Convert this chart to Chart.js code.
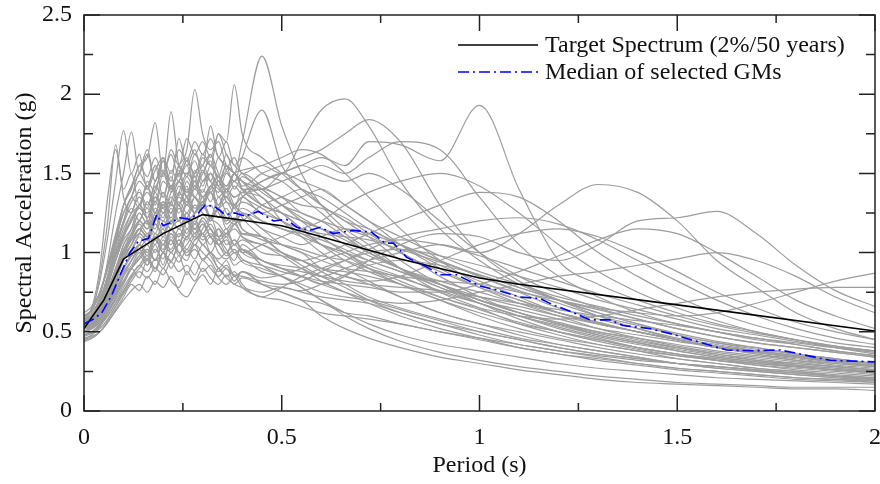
<!DOCTYPE html>
<html>
<head>
<meta charset="utf-8">
<script src="https://cdn.jsdelivr.net/npm/chart.js@4.4.1/dist/chart.umd.min.js"></script>
<style>
  html, body { margin: 0; padding: 0; background: #fff; }
  #wrap { width: 880px; height: 484px; position: relative; }
</style>
</head>
<body>
<div id="wrap"><canvas id="spectra"></canvas></div>
<script>
// periods (s) shared by all ground-motion spectra
const gmPeriods = [0, 0.02, 0.04, 0.06, 0.08, 0.1, 0.12, 0.14, 0.16, 0.18, 0.2, 0.22, 0.24, 0.26, 0.28, 0.3,
    0.32, 0.34, 0.36, 0.38, 0.4,
    0.45, 0.5, 0.55, 0.6, 0.66, 0.72, 0.8, 0.9, 1.0, 1.1, 1.2, 1.3, 1.4, 1.5, 1.6, 1.7, 1.8, 1.9, 2.0];

// Sa (g) of each selected ground motion
// first row of each: 0 - 0.4 s, second row: 0.45 - 2.0 s
const gmSpectra = [
    [0.55,0.58,0.64,0.75,0.88,1.05,1.12,1.25,1.18,1.38,1.25,1.32,1.45,1.35,1.52,1.42,1.55,1.48,1.62,1.5,1.7,
     2.24,1.8,1.5,1.3,1.15,1.05,0.9,0.75,0.65,0.55,0.48,0.42,0.38,0.33,0.3,0.27,0.25,0.22,0.2],
    [0.5,0.53,0.58,0.66,0.78,0.9,0.98,1.05,0.98,1.1,1.05,1.15,1.2,1.12,1.25,1.3,1.22,1.28,1.35,1.28,1.4,
     1.4,1.5,1.55,1.6,1.55,1.7,1.68,1.58,1.93,1.4,0.95,0.8,0.7,0.62,0.55,0.5,0.45,0.4,0.36],
    [0.48,0.5,0.55,0.62,0.72,0.82,0.9,0.98,1.05,0.95,1.0,1.08,0.98,1.1,1.05,1.12,1.0,1.08,1.02,0.95,1.05,
     0.95,0.92,0.9,0.85,0.9,0.95,1.0,1.05,1.0,1.12,1.3,1.43,1.38,1.2,0.95,0.78,0.62,0.52,0.45],
    [0.52,0.54,0.58,0.66,0.78,0.88,0.95,1.02,0.92,1.1,1.0,1.15,1.05,1.2,1.08,1.15,1.22,1.1,1.0,1.08,1.02,
     0.95,0.9,0.85,0.8,0.85,0.95,1.05,1.12,1.1,1.0,0.95,1.05,1.2,1.22,1.26,1.12,0.92,0.76,0.66],
    [0.6,0.63,0.7,0.82,0.98,1.12,1.25,1.3,1.42,1.32,1.5,1.38,1.45,1.55,1.4,1.5,1.58,1.45,1.52,1.6,1.5,
     1.55,1.5,1.7,1.9,1.97,1.8,1.45,1.15,0.95,0.8,0.7,0.6,0.52,0.45,0.4,0.36,0.32,0.29,0.27],
    [0.55,0.58,0.64,0.72,0.85,0.98,1.05,1.15,1.1,1.22,1.15,1.28,1.2,1.32,1.25,1.4,1.32,1.45,1.38,1.5,1.42,
     1.5,1.55,1.6,1.65,1.75,1.84,1.7,1.3,1.0,0.82,0.7,0.62,0.55,0.48,0.43,0.4,0.36,0.33,0.3],
    [0.5,0.54,0.6,0.7,0.82,0.95,1.02,1.1,1.05,1.18,1.12,1.2,1.15,1.25,1.18,1.3,1.22,1.35,1.25,1.2,1.35,
     1.4,1.45,1.5,1.55,1.5,1.6,1.7,1.65,1.35,1.05,0.85,0.72,0.62,0.55,0.5,0.46,0.42,0.38,0.35],
    [0.55,0.62,0.85,1.2,1.68,1.35,1.25,1.4,1.2,1.1,1.15,1.0,1.08,0.98,1.05,0.95,1.0,0.9,0.95,0.85,0.88,
     0.8,0.75,0.7,0.68,0.62,0.6,0.55,0.5,0.45,0.4,0.36,0.33,0.3,0.27,0.25,0.23,0.21,0.2,0.18],
    [0.58,0.6,0.66,0.76,0.9,1.05,1.15,1.3,1.25,1.4,1.5,1.42,1.55,1.65,2.03,1.75,1.65,1.7,1.55,1.5,1.45,
     1.3,1.25,1.15,1.05,1.0,0.9,0.8,0.7,0.62,0.55,0.5,0.45,0.4,0.36,0.33,0.3,0.28,0.26,0.24],
    [0.5,0.53,0.58,0.66,0.78,0.9,1.0,1.12,1.2,1.15,1.3,1.25,1.38,1.5,1.45,1.6,1.55,1.75,1.7,2.06,1.75,
     1.6,1.5,1.4,1.35,1.25,1.15,1.05,0.92,0.82,0.72,0.62,0.55,0.5,0.45,0.4,0.37,0.34,0.31,0.29],
    [0.6,0.64,0.75,0.92,1.1,1.3,1.4,1.55,1.48,1.6,1.5,1.89,1.55,1.5,1.58,1.45,1.5,1.35,1.4,1.3,1.25,
     1.15,1.05,1.0,0.9,0.85,0.8,0.72,0.62,0.55,0.5,0.45,0.4,0.36,0.33,0.3,0.27,0.25,0.23,0.21],
    [0.55,0.6,0.72,0.95,1.25,1.5,1.76,1.5,1.62,1.45,1.6,1.4,1.5,1.35,1.45,1.3,1.38,1.25,1.2,1.28,1.15,
     1.1,1.0,0.95,0.88,0.8,0.72,0.65,0.58,0.52,0.46,0.42,0.38,0.34,0.3,0.28,0.26,0.24,0.22,0.2],
    [0.5,0.53,0.58,0.65,0.75,0.86,0.95,1.05,1.12,1.05,1.2,1.15,1.28,1.22,1.35,1.3,1.42,1.38,1.5,1.45,1.6,
     1.9,1.55,1.4,1.3,1.2,1.15,1.05,0.95,0.85,0.75,0.65,0.58,0.52,0.46,0.42,0.38,0.35,0.32,0.3],
    [0.45,0.47,0.5,0.56,0.63,0.7,0.76,0.8,0.75,0.82,0.78,0.85,0.76,0.72,0.8,0.86,0.8,0.9,0.84,0.8,0.78,
     0.75,0.78,0.75,0.72,0.7,0.68,0.62,0.55,0.5,0.45,0.4,0.36,0.33,0.3,0.27,0.25,0.23,0.21,0.19],
    [0.48,0.5,0.54,0.6,0.68,0.76,0.85,0.92,0.88,0.96,0.9,1.0,0.94,1.02,0.96,1.05,0.98,0.9,0.85,0.88,0.8,
     0.72,0.78,0.85,0.9,0.95,1.0,1.02,0.98,0.92,0.85,0.78,0.7,0.64,0.58,0.52,0.48,0.44,0.4,0.37],
    [0.52,0.55,0.6,0.68,0.8,0.9,0.98,1.05,1.0,1.12,1.05,1.15,1.1,1.2,1.12,1.22,1.15,1.08,1.12,1.18,1.12,
     1.1,1.05,1.0,0.95,0.9,0.88,0.85,0.82,0.8,0.75,0.7,0.65,0.62,0.6,0.62,0.68,0.75,0.82,0.87],
    [0.5,0.53,0.58,0.66,0.75,0.86,0.95,1.02,1.08,1.0,1.1,1.05,1.15,1.1,1.2,1.12,1.18,1.1,1.15,1.05,1.12,
     1.1,1.0,0.95,0.9,0.88,0.85,0.8,0.72,0.65,0.6,0.58,0.6,0.64,0.68,0.72,0.75,0.77,0.78,0.78],
    [0.55,0.58,0.64,0.74,0.86,1.0,1.08,1.15,1.1,1.22,1.28,1.18,1.3,1.2,1.25,1.32,1.22,1.18,1.12,1.15,1.1,
     1.05,1.0,0.95,0.9,0.85,0.82,0.85,0.95,1.05,1.12,1.15,1.1,1.0,0.88,0.75,0.65,0.56,0.5,0.45],
    [0.53,0.56,0.62,0.72,0.84,0.98,1.08,1.15,1.2,1.12,1.25,1.18,1.28,1.22,1.3,1.25,1.2,1.28,1.22,1.18,1.25,
     1.2,1.15,1.1,1.05,1.0,0.95,0.88,0.8,0.72,0.66,0.6,0.55,0.5,0.45,0.4,0.37,0.34,0.31,0.29],
    [0.56,0.6,0.68,0.8,0.95,1.08,1.15,1.25,1.18,1.32,1.25,1.38,1.45,1.38,1.5,1.55,1.45,1.4,1.35,1.3,1.35,
     1.25,1.3,1.35,1.4,1.3,1.2,1.05,0.9,0.78,0.68,0.6,0.52,0.46,0.41,0.37,0.34,0.31,0.28,0.26],
    [0.45,0.48,0.53,0.62,0.72,0.85,0.92,1.0,0.95,1.05,0.92,1.1,1.0,0.95,1.05,1.0,0.95,0.88,0.92,0.85,0.88,
     0.8,0.75,0.7,0.6,0.52,0.46,0.4,0.34,0.3,0.26,0.23,0.2,0.18,0.17,0.16,0.15,0.14,0.14,0.13],
    [0.62,0.66,0.75,0.9,1.08,1.25,1.35,1.5,1.42,1.55,1.48,1.65,1.55,1.72,1.62,1.7,1.6,1.75,1.62,1.55,1.5,
     1.4,1.3,1.2,1.1,1.0,0.92,0.85,0.75,0.68,0.6,0.52,0.46,0.4,0.36,0.32,0.29,0.26,0.24,0.22],
    [0.5,0.52,0.56,0.62,0.7,0.8,0.9,0.96,1.02,0.95,1.08,1.02,1.12,1.08,1.18,1.12,1.22,1.28,1.2,1.3,1.35,
     1.45,1.5,1.45,1.4,1.3,1.2,1.1,0.98,0.88,0.8,0.72,0.66,0.6,0.55,0.5,0.45,0.42,0.38,0.35],
    [0.52,0.54,0.6,0.68,0.8,0.9,0.98,1.05,0.98,1.08,1.02,1.12,1.05,1.1,1.15,1.08,1.12,1.05,1.0,1.05,1.0,
     1.05,1.1,1.15,1.2,1.3,1.38,1.45,1.5,1.42,1.25,1.05,0.88,0.75,0.65,0.57,0.5,0.45,0.41,0.38],
    [0.48,0.5,0.54,0.6,0.68,0.78,0.86,0.92,0.98,0.9,1.0,0.94,1.05,0.98,1.02,0.96,1.0,0.94,0.9,0.86,0.85,
     0.82,0.8,0.82,0.88,0.95,1.02,1.1,1.15,1.2,1.22,1.18,1.08,0.95,0.82,0.7,0.6,0.52,0.46,0.42],
    [0.46,0.48,0.54,0.62,0.72,0.82,0.9,0.98,0.92,1.02,0.96,1.08,1.0,1.05,1.12,1.05,1.1,1.0,0.96,1.0,0.94,
     0.9,0.85,0.78,0.7,0.62,0.55,0.48,0.42,0.38,0.34,0.3,0.27,0.25,0.23,0.21,0.2,0.19,0.18,0.17],
    [0.57,0.6,0.7,0.84,1.0,1.15,1.25,1.35,1.28,1.42,1.35,1.52,1.45,1.58,1.5,1.62,1.55,1.48,1.42,1.5,1.4,
     1.3,1.25,1.2,1.15,1.1,1.0,0.9,0.8,0.7,0.62,0.55,0.48,0.43,0.38,0.34,0.31,0.28,0.26,0.24],
    [0.5,0.52,0.57,0.65,0.76,0.86,0.95,1.02,0.96,1.08,1.0,1.12,1.05,1.15,1.1,1.18,1.1,1.05,0.98,1.02,0.96,
     0.92,0.88,0.85,0.82,0.8,0.78,0.75,0.75,0.8,0.88,0.98,1.08,1.15,1.12,1.0,0.85,0.7,0.6,0.52],
    [0.54,0.57,0.64,0.76,0.9,1.02,1.1,1.2,1.28,1.2,1.32,1.25,1.38,1.3,1.42,1.35,1.4,1.48,1.38,1.45,1.4,
     1.4,1.35,1.25,1.2,1.15,1.1,1.0,0.85,0.72,0.62,0.55,0.5,0.45,0.4,0.36,0.32,0.3,0.28,0.26],
    [0.6,0.64,0.74,0.9,1.05,1.2,1.32,1.38,1.3,1.45,1.52,1.42,1.5,1.6,1.48,1.55,1.62,1.5,1.42,1.5,1.4,
     1.35,1.2,1.1,1.0,0.9,0.82,0.72,0.62,0.55,0.48,0.42,0.38,0.34,0.3,0.27,0.25,0.23,0.21,0.2],
    [0.52,0.55,0.62,0.72,0.85,0.96,1.05,1.12,1.08,1.18,1.12,1.25,1.2,1.3,1.25,1.32,1.38,1.3,1.4,1.35,1.38,
     1.45,1.5,1.55,1.5,1.45,1.5,1.4,1.2,1.0,0.85,0.74,0.65,0.58,0.52,0.47,0.43,0.4,0.37,0.34],
    [0.44,0.46,0.5,0.57,0.66,0.75,0.84,0.9,0.96,0.9,1.0,0.95,1.05,1.0,1.08,1.12,1.05,1.15,1.1,1.18,1.2,
     1.3,1.35,1.4,1.3,1.2,1.1,0.95,0.8,0.68,0.58,0.5,0.44,0.39,0.35,0.32,0.29,0.27,0.25,0.23],
    [0.58,0.61,0.7,0.84,1.0,1.12,1.2,1.3,1.22,1.35,1.28,1.32,1.2,1.25,1.15,1.2,1.1,1.15,1.05,1.08,1.0,
     0.95,0.9,0.88,0.85,0.82,0.8,0.78,0.76,0.72,0.68,0.64,0.6,0.57,0.54,0.5,0.46,0.43,0.4,0.38],
    [0.5,0.54,0.6,0.72,0.86,0.98,1.05,1.15,1.1,1.22,1.3,1.22,1.32,1.25,1.35,1.28,1.3,1.22,1.28,1.2,1.25,
     1.15,1.1,1.05,1.1,1.15,1.12,1.05,0.95,0.85,0.76,0.68,0.6,0.54,0.48,0.43,0.39,0.36,0.33,0.3],
    [0.48,0.5,0.55,0.62,0.72,0.82,0.9,0.96,1.02,0.95,1.05,1.0,1.08,1.02,1.1,1.05,1.0,0.96,1.0,0.92,0.95,
     0.88,0.85,0.8,0.75,0.72,0.7,0.68,0.7,0.75,0.8,0.85,0.88,0.92,0.96,1.0,0.95,0.85,0.72,0.62],
    [0.55,0.6,0.68,0.85,1.05,1.3,1.42,1.55,1.6,1.82,1.5,1.62,1.48,1.58,1.42,1.52,1.38,1.45,1.32,1.3,1.22,
     1.1,1.0,0.92,0.85,0.78,0.7,0.62,0.55,0.48,0.42,0.38,0.34,0.3,0.27,0.25,0.23,0.21,0.2,0.19],
    [0.52,0.55,0.62,0.74,0.88,1.0,1.1,1.2,1.15,1.28,1.22,1.35,1.3,1.4,1.35,1.45,1.5,1.42,1.55,1.5,1.45,
     1.4,1.3,1.25,1.2,1.1,1.0,0.9,0.8,0.7,0.64,0.58,0.52,0.48,0.44,0.4,0.37,0.34,0.32,0.3],
    [0.47,0.49,0.52,0.58,0.66,0.74,0.82,0.88,0.84,0.9,0.86,0.94,0.88,0.92,0.86,0.95,0.9,0.84,0.8,0.85,0.78,
     0.72,0.7,0.66,0.62,0.6,0.58,0.55,0.5,0.46,0.42,0.38,0.35,0.32,0.3,0.28,0.26,0.24,0.22,0.2],
    [0.6,0.64,0.75,0.9,1.08,1.25,1.35,1.45,1.4,1.52,1.6,1.5,1.65,1.58,1.7,1.62,1.72,1.6,1.55,1.5,1.45,
     1.35,1.25,1.15,1.05,0.95,0.88,0.8,0.7,0.6,0.52,0.46,0.42,0.38,0.35,0.32,0.3,0.28,0.26,0.25],
    [0.5,0.53,0.58,0.68,0.8,0.9,0.98,1.05,1.0,1.1,1.05,1.15,1.1,1.2,1.15,1.22,1.15,1.1,1.12,1.05,1.08,
     1.0,0.98,0.95,0.98,1.05,1.12,1.2,1.3,1.38,1.35,1.2,1.0,0.85,0.72,0.62,0.54,0.48,0.43,0.4],
    [0.53,0.56,0.63,0.75,0.88,1.0,1.08,1.15,1.1,1.25,1.2,1.3,1.25,1.35,1.28,1.32,1.38,1.3,1.4,1.35,1.38,
     1.3,1.25,1.2,1.15,1.05,0.98,0.9,0.82,0.75,0.68,0.62,0.56,0.5,0.45,0.4,0.36,0.33,0.3,0.28],
    [0.5,0.53,0.6,0.7,0.82,0.95,1.05,1.12,1.08,1.18,1.1,1.2,1.15,1.22,1.12,1.18,1.1,1.05,1.08,1.0,1.02,
     0.92,0.85,0.78,0.7,0.6,0.52,0.44,0.37,0.32,0.28,0.25,0.22,0.2,0.18,0.17,0.16,0.15,0.15,0.15],
    [0.54,0.57,0.63,0.74,0.88,1.0,1.1,1.18,1.12,1.22,1.3,1.25,1.35,1.3,1.4,1.35,1.42,1.48,1.4,1.5,1.52,
     1.55,1.6,1.65,1.62,1.5,1.35,1.15,0.95,0.8,0.7,0.62,0.55,0.5,0.45,0.41,0.37,0.34,0.31,0.28],
    [0.56,0.6,0.68,0.82,0.98,1.1,1.2,1.28,1.22,1.35,1.28,1.42,1.3,1.45,1.35,1.3,1.38,1.28,1.32,1.25,1.28,
     1.2,1.15,1.12,1.08,1.02,0.95,0.88,0.78,0.7,0.62,0.56,0.5,0.46,0.42,0.38,0.35,0.32,0.3,0.28],
    [0.58,0.65,0.82,1.1,1.45,1.77,1.5,1.62,1.4,1.55,1.35,1.48,1.3,1.42,1.25,1.35,1.2,1.28,1.15,1.2,1.1,
     1.05,0.98,0.9,0.82,0.75,0.68,0.6,0.52,0.46,0.4,0.36,0.32,0.29,0.26,0.24,0.22,0.2,0.19,0.18],
    [0.55,0.6,0.7,0.86,1.05,1.2,1.35,1.28,1.45,1.38,1.58,1.45,1.72,1.55,1.65,1.5,1.62,1.45,1.55,1.4,1.48,
     1.38,1.3,1.22,1.15,1.08,1.0,0.9,0.8,0.7,0.62,0.55,0.49,0.44,0.4,0.36,0.33,0.3,0.28,0.26],
    [0.52,0.56,0.64,0.78,0.95,1.1,1.22,1.3,1.38,1.3,1.45,1.4,1.55,1.48,1.62,1.55,1.8,1.6,1.7,1.55,1.6,
     1.5,1.45,1.35,1.25,1.12,1.02,0.9,0.78,0.68,0.6,0.53,0.47,0.42,0.38,0.34,0.31,0.29,0.27,0.25],
    [0.56,0.65,0.9,1.35,1.65,1.4,1.5,1.3,1.42,1.25,1.38,1.2,1.3,1.15,1.22,1.1,1.15,1.05,1.1,1.0,1.02,
     0.95,0.9,0.85,0.8,0.75,0.7,0.64,0.57,0.5,0.45,0.4,0.36,0.33,0.3,0.28,0.26,0.24,0.22,0.21],
    [0.5,0.52,0.56,0.64,0.74,0.82,0.9,0.84,0.95,0.88,1.0,0.9,0.98,0.86,0.95,0.88,0.92,0.85,0.9,0.82,0.88,
     0.84,0.86,0.9,0.95,1.0,1.05,1.08,1.05,0.98,0.9,0.82,0.74,0.67,0.6,0.54,0.49,0.45,0.41,0.38],
    [0.6,0.64,0.74,0.92,1.12,1.3,1.42,1.5,1.65,1.45,1.58,1.4,1.52,1.38,1.48,1.35,1.42,1.3,1.38,1.28,1.32,
     1.25,1.2,1.12,1.05,0.98,0.9,0.82,0.72,0.64,0.56,0.5,0.45,0.4,0.36,0.33,0.3,0.28,0.26,0.24],
    [0.44,0.46,0.5,0.56,0.64,0.72,0.8,0.76,0.85,0.8,0.9,0.82,0.78,0.88,0.82,0.9,0.84,0.8,0.86,0.8,0.84,
     0.8,0.78,0.76,0.8,0.86,0.92,0.95,0.92,0.86,0.78,0.7,0.62,0.55,0.49,0.44,0.4,0.36,0.33,0.3],
    [0.54,0.58,0.66,0.8,0.95,1.1,1.2,1.28,1.22,1.35,1.3,1.42,1.36,1.48,1.4,1.52,1.45,1.6,1.52,1.45,1.5,
     1.42,1.35,1.3,1.28,1.22,1.12,1.0,0.88,0.78,0.7,0.62,0.56,0.5,0.45,0.41,0.38,0.35,0.32,0.3],
    [0.5,0.54,0.62,0.75,0.9,1.02,1.12,1.2,1.15,1.25,1.32,1.25,1.38,1.32,1.45,1.38,1.5,1.42,1.35,1.42,1.36,
     1.28,1.2,1.15,1.12,1.1,1.08,1.02,0.94,0.86,0.78,0.7,0.64,0.58,0.52,0.47,0.43,0.4,0.37,0.34],
    [0.57,0.6,0.7,0.85,1.02,1.18,1.28,1.2,1.32,1.25,1.38,1.3,1.42,1.35,1.25,1.32,1.22,1.28,1.18,1.22,1.15,
     1.08,1.05,1.02,0.98,0.95,0.9,0.84,0.76,0.68,0.6,0.54,0.48,0.43,0.39,0.35,0.32,0.29,0.27,0.25],
];

// target spectrum (2%/50 years)
const targetPeriods = [0, 0.05, 0.1, 0.2, 0.3, 0.5, 0.6, 0.8, 1.0, 1.1, 1.5, 2.0];
const targetValues = [0.52, 0.70, 0.96, 1.12, 1.24, 1.17, 1.10, 0.96, 0.84, 0.80, 0.67, 0.505];

// median of the selected ground motions
const medianPeriods = [0, 0.024, 0.045, 0.07, 0.095, 0.116, 0.137, 0.163, 0.184, 0.2, 0.22, 0.243, 0.268, 0.289,
    0.306, 0.331, 0.357, 0.382, 0.407, 0.441, 0.479, 0.512, 0.538, 0.571, 0.597, 0.63, 0.68, 0.727, 0.761, 0.782,
    0.816, 0.866, 0.9, 0.942, 1.0, 1.05, 1.1, 1.153, 1.186, 1.229, 1.28, 1.33, 1.363, 1.43, 1.48, 1.549, 1.625,
    1.69, 1.76, 1.8, 1.886, 2.0];
const medianValues = [0.55, 0.58, 0.62, 0.73, 0.88, 1.0, 1.07, 1.09, 1.24, 1.17, 1.19, 1.22, 1.21, 1.25,
    1.30, 1.29, 1.24, 1.25, 1.23, 1.26, 1.20, 1.21, 1.16, 1.14, 1.16, 1.12, 1.14, 1.13, 1.06, 1.06,
    0.97, 0.91, 0.86, 0.86, 0.79, 0.76, 0.72, 0.71, 0.67, 0.63, 0.575, 0.575, 0.54, 0.52, 0.49, 0.44, 0.385,
    0.38, 0.385, 0.365, 0.32, 0.31];

const legendLabels = ["Target Spectrum (2%/50 years)", "Median of selected GMs"];

const serif = "'Liberation Serif', 'Times New Roman', serif";
const toPoints = (xs, ys) => xs.map((x, i) => ({ x: x, y: ys[i] }));
const isMajor = v => Math.abs(v * 2 - Math.round(v * 2)) < 1e-6;

const datasets = [
    {
        label: legendLabels[1],
        data: toPoints(medianPeriods, medianValues),
        borderColor: "#0000ff",
        borderWidth: 1.6,
        borderDash: [11, 4, 2, 4],
        tension: 0,
    },
    {
        label: legendLabels[0],
        data: toPoints(targetPeriods, targetValues),
        borderColor: "#000000",
        borderWidth: 1.6,
        tension: 0,
    },
];
gmSpectra.forEach((sa, i) => {
    datasets.push({
        label: "GM " + (i + 1),
        data: toPoints(gmPeriods, sa),
        borderColor: "#9d9d9d",
        borderWidth: 1.2,
        cubicInterpolationMode: "monotone",
    });
});

// box frame with inward major/minor ticks on all four sides
const frameTicks = {
    id: "frameTicks",
    afterDatasetsDraw(chart) {
        const { ctx, chartArea: a, scales } = chart;
        ctx.save();
        ctx.strokeStyle = "#222";
        ctx.lineWidth = 1.5;
        ctx.strokeRect(a.left, a.top, a.right - a.left, a.bottom - a.top);
        ctx.beginPath();
        scales.x.ticks.forEach(t => {
            const px = scales.x.getPixelForValue(t.value);
            const len = isMajor(t.value) ? 16 : 8;
            ctx.moveTo(px, a.bottom); ctx.lineTo(px, a.bottom - len);
            ctx.moveTo(px, a.top); ctx.lineTo(px, a.top + len);
        });
        scales.y.ticks.forEach(t => {
            const py = scales.y.getPixelForValue(t.value);
            const len = isMajor(t.value) ? 16 : 9;
            ctx.moveTo(a.left, py); ctx.lineTo(a.left + len, py);
            ctx.moveTo(a.right, py); ctx.lineTo(a.right - len, py);
        });
        ctx.stroke();
        ctx.restore();
    }
};

// legend drawn inside the plot, top right
const innerLegend = {
    id: "innerLegend",
    afterDraw(chart) {
        const { ctx } = chart;
        const rows = [chart.data.datasets[1], chart.data.datasets[0]];
        ctx.save();
        ctx.font = "24px " + serif;
        ctx.textBaseline = "middle";
        rows.forEach((ds, i) => {
            const y = 45 + i * 27;
            ctx.strokeStyle = ds.borderColor;
            ctx.lineWidth = ds.borderWidth;
            ctx.setLineDash(ds.borderDash || []);
            ctx.beginPath();
            ctx.moveTo(458, y);
            ctx.lineTo(538, y);
            ctx.stroke();
            ctx.setLineDash([]);
            ctx.fillStyle = "#111";
            ctx.fillText(ds.label, 545, y + 1);
        });
        ctx.restore();
    }
};

new Chart(document.getElementById("spectra"), {
    type: "line",
    data: { datasets: datasets },
    options: {
        responsive: true,
        maintainAspectRatio: false,
        animation: false,
        events: [],
        elements: { point: { radius: 0 } },
        layout: { padding: { left: 6, right: 5, top: 15, bottom: 0 } },
        plugins: {
            legend: { display: false },
            tooltip: { enabled: false },
        },
        scales: {
            x: {
                type: "linear",
                min: 0,
                max: 2,
                grid: { display: false, drawTicks: false },
                border: { display: false },
                ticks: {
                    stepSize: 0.25,
                    autoSkip: false,
                    maxRotation: 0,
                    padding: 12,
                    color: "#111",
                    font: { family: serif, size: 24 },
                    callback: v => isMajor(v) ? String(v) : "",
                },
                title: {
                    display: true,
                    text: "Period (s)",
                    color: "#111",
                    font: { family: serif, size: 24 },
                },
                afterFit: s => { s.height = 73; s.paddingLeft = 0; s.paddingRight = 0; },
            },
            y: {
                min: 0,
                max: 2.5,
                grid: { display: false, drawTicks: false },
                border: { display: false },
                ticks: {
                    stepSize: 0.25,
                    autoSkip: false,
                    padding: 12,
                    color: "#111",
                    font: { family: serif, size: 24 },
                    callback: v => isMajor(v) ? String(v) : "",
                },
                title: {
                    display: true,
                    text: "Spectral Acceleration (g)",
                    color: "#111",
                    font: { family: serif, size: 24 },
                },
                afterFit: s => { s.width = 78; s.paddingTop = 0; s.paddingBottom = 0; },
            },
        },
    },
    plugins: [frameTicks, innerLegend],
});
</script>
</body>
</html>
